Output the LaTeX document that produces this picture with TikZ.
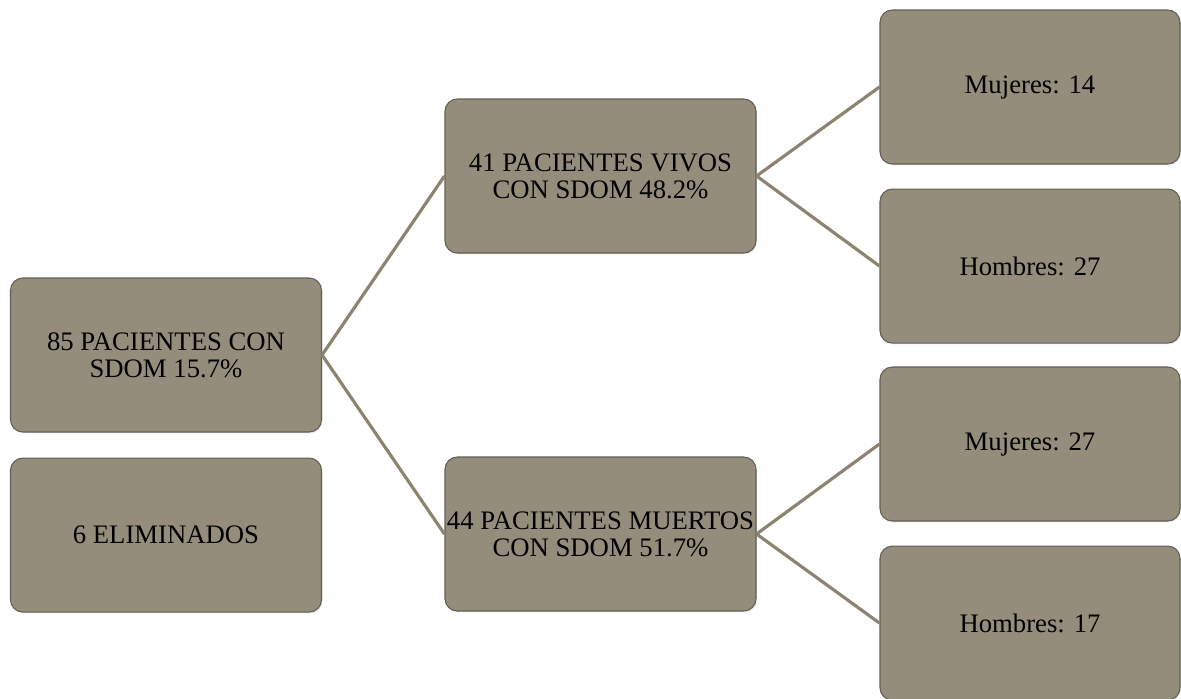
\documentclass[tikz,border=0pt]{standalone}
\usepackage{fontspec}
\setmainfont{Liberation Serif}
\usepackage{tikz}
\usetikzlibrary{positioning,shadows}

\definecolor{boxfill}{RGB}{149,141,124}
\definecolor{boxedge}{RGB}{98,94,82}
\definecolor{linkgray}{RGB}{140,131,113}

\begin{document}
\begin{tikzpicture}[
  font=\fontsize{15.2}{15.5}\selectfont,
  link/.style={line width=1.8pt, draw=linkgray},
  box/.style={rounded corners=7pt, draw=boxedge, line width=0.6pt, fill=boxfill,
    minimum width=6.22cm, minimum height=3.08cm, align=center, inner sep=1pt,
    drop shadow={opacity=0.18, shadow xshift=0.6pt, shadow yshift=-0.8pt}},
  leaf/.style={box, minimum width=6.0cm}
]
\useasboundingbox (0,0) rectangle (23.62,-13.96);

% left column
\node[box] (total) at (3.32,-7.10) {85 PACIENTES CON\\SDOM 15.7\%};
\node[box, below=0.5cm of total] (elim) {6 ELIMINADOS};

% middle column
\node[box] (vivos) at (12.01,-3.52) {41 PACIENTES VIVOS\\CON SDOM 48.2\%};
\node[box] (muertos) at (12.01,-10.68) {44 PACIENTES MUERTOS\\CON SDOM 51.7\%};

% right column
\node[leaf] (mujv) at (20.6,-1.74) {Mujeres: 14};
\node[leaf, below=0.48cm of mujv] (homv) {Hombres: 27};
\node[leaf] (mujm) at (20.6,-8.88) {Mujeres: 27};
\node[leaf, below=0.48cm of mujm] (homm) {Hombres: 17};

% connectors
\draw[link] (total.east) -- (vivos.west);
\draw[link] (total.east) -- (muertos.west);
\draw[link] (vivos.east) -- (mujv.west);
\draw[link] (vivos.east) -- (homv.west);
\draw[link] (muertos.east) -- (mujm.west);
\draw[link] (muertos.east) -- (homm.west);
\end{tikzpicture}
\end{document}
